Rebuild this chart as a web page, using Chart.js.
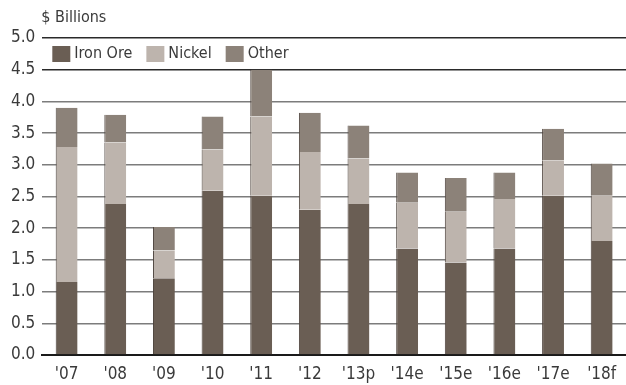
<!DOCTYPE html>
<html>
<head>
<meta charset="utf-8">
<script src="https://cdn.jsdelivr.net/npm/chart.js@4"></script>
<style>
  html, body { margin: 0; padding: 0; background: #fff; }
  #wrap { width: 626px; height: 385px; }
</style>
</head>
<body>
<div id="wrap"><canvas id="bars"></canvas></div>
<script>
const years = ["'07", "'08", "'09", "'10", "'11", "'12", "'13p", "'14e", "'15e", "'16e", "'17e", "'18f"];
const ironOre = [1.15, 2.38, 1.21, 2.59, 2.51, 2.29, 2.38, 1.68, 1.46, 1.68, 2.51, 1.80];
const nickel  = [2.13, 0.97, 0.44, 0.65, 1.25, 0.91, 0.72, 0.72, 0.80, 0.78, 0.56, 0.71];
const other   = [0.62, 0.44, 0.37, 0.52, 0.74, 0.62, 0.52, 0.48, 0.53, 0.42, 0.50, 0.51];
const yTicks  = [0, 0.5, 1, 1.5, 2, 2.5, 3, 3.5, 4, 4.5, 5];

const FONT = "'DejaVu Sans Condensed', 'Liberation Sans Narrow', sans-serif";
const TEXT = "#3a3a3a";

// legend + unit label drawn inside the plot, top-left
const insideLegend = {
  id: "insideLegend",
  afterDraw(chart) {
    const ctx = chart.ctx;
    const area = chart.chartArea;
    ctx.save();
    ctx.font = "16px " + FONT;
    ctx.fillStyle = TEXT;
    ctx.textBaseline = "middle";
    ctx.textAlign = "left";
    ctx.fillText("$ Billions", area.left - 1, 18);

    let x = area.left + 10;
    const y = area.top + 16;
    chart.data.datasets.forEach((ds) => {
      ctx.fillStyle = ds.backgroundColor;
      ctx.fillRect(x, y - 8, 18, 16);
      ctx.fillStyle = TEXT;
      ctx.fillText(ds.label, x + 22, y);
      x += 22 + ctx.measureText(ds.label).width + 14;
    });
    ctx.restore();
  }
};

function barSet(label, values, color) {
  return {
    label: label,
    data: values,
    backgroundColor: color,
    borderColor: "#4d433c",
    borderWidth: { left: 1, right: 0, top: 0, bottom: 0 },
    borderSkipped: false,
    barPercentage: 0.45,
    categoryPercentage: 1.0
  };
}

new Chart(document.getElementById("bars"), {
  type: "bar",
  data: {
    labels: years,
    datasets: [
      barSet("Iron Ore", ironOre, "#6a5e54"),
      barSet("Nickel", nickel, "#bdb4ad"),
      barSet("Other", other, "#8c8279")
    ]
  },
  options: {
    responsive: true,
    maintainAspectRatio: false,
    animation: false,
    layout: { padding: { top: 38, right: 0, left: 4, bottom: 0 } },
    plugins: {
      legend: { display: false },
      tooltip: { enabled: false }
    },
    scales: {
      x: {
        stacked: true,
        grid: { display: false },
        border: { display: true, color: "#1a1a1a", width: 2 },
        ticks: { color: TEXT, font: { family: FONT, size: 17 }, padding: 1 },
        afterFit(scale) { scale.height = 30; }
      },
      y: {
        stacked: true,
        min: 0,
        max: 5,
        afterBuildTicks(scale) {
          scale.ticks = yTicks.map((v) => ({ value: v }));
        },
        grid: {
          drawTicks: false,
          lineWidth: 1.5,
          color: (c) => (c.tick && c.tick.value >= 4.5 ? "#2a2a2a" : "#7c7c7c")
        },
        border: { display: false },
        ticks: {
          color: TEXT,
          font: { family: FONT, size: 17 },
          padding: 7,
          callback: (v) => Number(v).toFixed(1)
        }
      }
    }
  },
  plugins: [insideLegend]
});
</script>
</body>
</html>
